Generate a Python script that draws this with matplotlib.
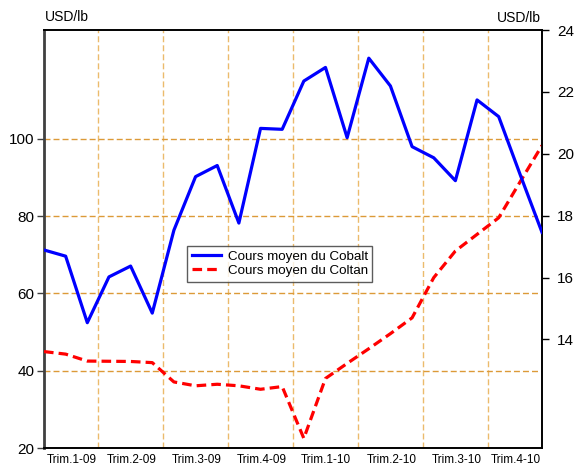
import numpy as np
import matplotlib
matplotlib.use("Agg")
import matplotlib.pyplot as plt

plt.rcParams['font.family'] = ['Liberation Sans Narrow', 'Liberation Sans', 'DejaVu Sans']

# monthly averages, Jan 2009 - Dec 2010
months = np.arange(24)
cobalt = [16.89, 16.69, 14.54, 16.02, 16.37, 14.85, 17.53, 19.26, 19.62, 17.76, 20.82, 20.79,
          22.35, 22.79, 20.52, 23.09, 22.19, 20.23, 19.87, 19.13, 21.74, 21.20, 19.31, 17.46]
coltan = [44.96, 44.3, 42.5, 42.45, 42.4, 42.1, 37.1, 36.1, 36.5, 36.1, 35.2, 35.9,
          22.5, 38.0, 41.9, 45.7, 49.6, 53.7, 64.1, 71.0, 75.3, 79.6, 89.0, 98.3]
quarter_labels = ["Trim.1-09", "Trim.2-09", "Trim.3-09", "Trim.4-09",
                  "Trim.1-10", "Trim.2-10", "Trim.3-10", "Trim.4-10"]
quarter_pos = [1.3, 4.05, 7.05, 10.05, 13.0, 16.05, 19.05, 21.8]
quarter_bounds = [2.5, 5.5, 8.5, 11.5, 14.5, 17.5, 20.5]

fig = plt.figure(figsize=(5.83, 4.72), dpi=100)
ax = fig.add_axes([44 / 583, 24 / 472, 498 / 583, 418 / 472])
ax2 = ax.twinx()

# left axis: coltan
l2, = ax.plot(months, coltan, color='#FF0000', lw=2.3, linestyle=(0, (3, 1.6)),
              label="Cours moyen du Coltan", zorder=3)
ax.set_xlim(0, 23)
ax.set_ylim(20, 128.2)
ax.set_yticks([20, 40, 60, 80, 100])
ax.set_xticks(quarter_pos)
ax.set_xticklabels(quarter_labels, fontsize=8.5)
ax.set_xticks(quarter_bounds, minor=True)
ax.tick_params(axis='x', which='both', length=0, pad=4)
ax.tick_params(axis='y', length=5, width=1, labelsize=11, pad=2, color='#404040')

ax.grid(axis='y', which='major', color='#DC9A38', linestyle=(0, (4.3, 2.2)), lw=1)
ax.grid(axis='x', which='minor', color='#EBBB6C', linestyle=(0, (4.3, 2.2)), lw=1)
ax.set_axisbelow(True)

# right axis: cobalt
l1, = ax2.plot(months, cobalt, color='#0000FF', lw=2.3, label="Cours moyen du Cobalt", zorder=3)
ax2.set_ylim(10.49, 24)
ax2.set_yticks([14, 16, 18, 20, 22, 24])
ax2.set_yticklabels(["14", "16", "18", "20", "22", "24"])
ax2.tick_params(axis='y', length=5, width=1, labelsize=11, pad=6)

for a in (ax, ax2):
    for s in a.spines.values():
        s.set_linewidth(1.2)
        s.set_color('black')
ax.spines['left'].set_color('#404040')
ax.spines['left'].set_linewidth(2)
ax2.spines['left'].set_visible(False)

leg = ax2.legend(handles=[l1, l2], loc='upper left', bbox_to_anchor=(0.287, 0.483),
                 fontsize=9.6, frameon=True, fancybox=False, handlelength=2.2,
                 handletextpad=0.5, borderpad=0.35, labelspacing=0.12, borderaxespad=0)
leg.get_frame().set_edgecolor('#333333')
leg.get_frame().set_linewidth(1)

fig.text(45 / 583, 1 - 17 / 472, "USD/lb", fontsize=10, va='center', ha='left')
fig.text(541 / 583, 1 - 18 / 472, "USD/lb", fontsize=10, va='center', ha='right')

fig.savefig("out.png", dpi=100)
